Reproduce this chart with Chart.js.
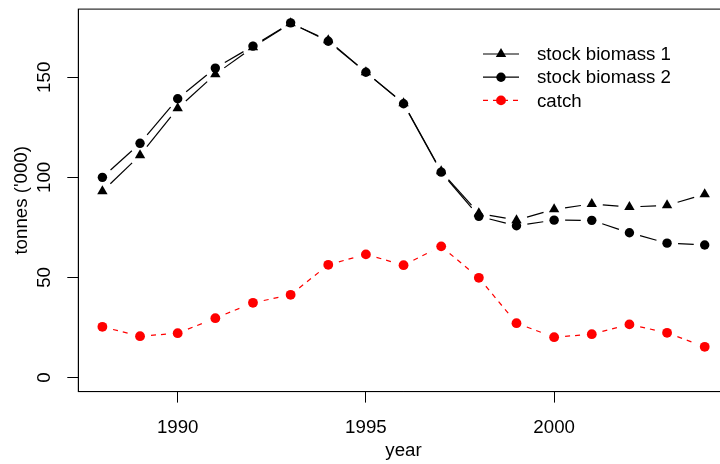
<!DOCTYPE html>
<html>
<head>
<meta charset="utf-8">
<script src="https://cdn.jsdelivr.net/npm/chart.js@4/dist/chart.umd.min.js"></script>
<style>
  html, body { margin: 0; padding: 0; background: #fff; overflow: hidden; }
  #wrap { width: 740px; height: 464px; }
</style>
</head>
<body>
<div id="wrap"><canvas id="c" width="740" height="464"></canvas></div>
<script>
const years = [1988, 1989, 1990, 1991, 1992, 1993, 1994, 1995, 1996, 1997, 1998, 1999, 2000, 2001, 2002, 2003, 2004];
const stockBiomass1 = [93, 111, 134.5, 151.5, 165, 177, 168.5, 152.5, 137, 103, 82, 78.6, 84, 86.7, 85.2, 86, 91.5];
const stockBiomass2 = [100, 117, 139.3, 154.6, 165.6, 177.2, 168, 152.5, 136.8, 102.6, 80.5, 75.8, 78.6, 78.5, 72.3, 67.1, 66.2];
const catchValues = [25.3, 20.6, 22.1, 29.6, 37.3, 41.3, 56.3, 61.5, 56.1, 65.5, 49.8, 27.1, 20.1, 21.6, 26.5, 22.3, 15.3];
const seriesLabels = ['stock biomass 1', 'stock biomass 2', 'catch'];
const xTickValues = [1990, 1995, 2000];
const yTickValues = [0, 50, 100, 150];

const FONT = { family: '"Liberation Sans", Arial, Helvetica, sans-serif', size: 18.7 };
const GAP = 11;

function gapDash(L, g, d, s) {
  const U = L - 2 * g;
  if (U <= 0) return [0, Math.max(L, 1)];
  const arr = [];
  let cum = 0;
  while (true) {
    const on = Math.min(d, U - cum);
    arr.push(on); cum += on;
    if (cum >= U - 1e-6) break;
    const off = Math.min(s, U - cum);
    arr.push(off); cum += off;
    if (cum >= U - 1e-6) { arr.push(0); break; }
  }
  arr.push(L - cum);
  return arr;
}
function segLen(c) { return Math.hypot(c.p1.x - c.p0.x, c.p1.y - c.p0.y); }
function gapSegment(d, s) {
  return {
    borderDash: c => gapDash(segLen(c), GAP, d, s),
    borderDashOffset: c => segLen(c) - GAP
  };
}
const toXY = arr => arr.map((v, i) => ({ x: years[i], y: v }));

const boxPlugin = {
  id: 'box',
  afterDraw(chart) {
    const { ctx, chartArea: a } = chart;
    ctx.save();
    ctx.strokeStyle = '#000';
    ctx.lineWidth = 1;
    ctx.strokeRect(a.left, a.top, a.right - a.left, a.bottom - a.top);
    ctx.restore();
  }
};

const legendPlugin = {
  id: 'rlegend',
  afterDraw(chart) {
    const ctx = chart.ctx;
    const x0 = 483, x1 = 519, xm = 501, xt = 537, y0 = 54, dy = 23.2;
    ctx.save();
    chart.data.datasets.forEach((ds, i) => {
      const y = y0 + i * dy;
      ctx.strokeStyle = ds.borderColor;
      ctx.lineWidth = ds.borderWidth;
      ctx.setLineDash(ds.legendDash || []);
      ctx.beginPath(); ctx.moveTo(x0, y); ctx.lineTo(x1, y); ctx.stroke();
      ctx.setLineDash([]);
      ctx.fillStyle = ds.pointBackgroundColor;
      const r = ds.pointRadius;
      ctx.beginPath();
      if (ds.pointStyle === 'triangle') {
        for (let k = 0; k < 3; k++) {
          const ang = k * 2 * Math.PI / 3;
          const px = xm + Math.sin(ang) * r, py = y - Math.cos(ang) * r;
          if (k === 0) ctx.moveTo(px, py); else ctx.lineTo(px, py);
        }
        ctx.closePath();
      } else {
        ctx.arc(xm, y, r, 0, Math.PI * 2);
      }
      ctx.fill();
      ctx.fillStyle = '#000';
      ctx.font = FONT.size + 'px ' + FONT.family;
      ctx.textAlign = 'left';
      ctx.textBaseline = 'middle';
      ctx.fillText(ds.label, xt, y + 1);
    });
    ctx.restore();
  }
};

new Chart(document.getElementById('c'), {
  type: 'line',
  data: {
    datasets: [
      {
        label: seriesLabels[0], data: toXY(stockBiomass1),
        borderColor: '#000', borderWidth: 1.2, pointStyle: 'triangle', pointRadius: 6,
        pointBackgroundColor: '#000', pointBorderWidth: 0, pointHoverRadius: 6,
        segment: gapSegment(1e6, 0), legendDash: []
      },
      {
        label: seriesLabels[1], data: toXY(stockBiomass2),
        borderColor: '#000', borderWidth: 1.2, pointStyle: 'circle', pointRadius: 4.7,
        pointBackgroundColor: '#000', pointBorderWidth: 0, pointHoverRadius: 4.7,
        segment: gapSegment(1e6, 0), legendDash: []
      },
      {
        label: seriesLabels[2], data: toXY(catchValues),
        borderColor: '#ff0000', borderWidth: 1.2, pointStyle: 'circle', pointRadius: 4.9,
        pointBackgroundColor: '#ff0000', pointBorderWidth: 0, pointHoverRadius: 4.9,
        segment: gapSegment(5, 5), legendDash: [5, 5]
      }
    ]
  },
  options: {
    responsive: false,
    animation: false,
    devicePixelRatio: 1,
    layout: { padding: { left: 0, right: 11.2, top: 9.1, bottom: 0 } },
    elements: { line: { tension: 0, borderCapStyle: 'butt', fill: false } },
    plugins: { legend: { display: false }, tooltip: { enabled: false } },
    scales: {
      x: {
        type: 'linear', min: 1987.36, max: 2004.64,
        afterBuildTicks: s => { s.ticks = xTickValues.map(v => ({ value: v })); },
        afterFit: s => { s.height = 72.4; s.paddingLeft = 0; s.paddingRight = 0; },
        grid: { drawOnChartArea: false, drawTicks: true, tickLength: 11, color: '#000', lineWidth: 1 },
        border: { display: true, color: '#000', width: 1 },
        ticks: { color: '#000', font: FONT, padding: 14, autoSkip: false, maxRotation: 0,
                 callback: v => String(v) },
        title: { display: true, text: 'year', color: '#000', font: FONT, padding: { top: 0, bottom: 2 } }
      },
      y: {
        type: 'linear', min: -7.08, max: 184.08,
        afterBuildTicks: s => { s.ticks = yTickValues.map(v => ({ value: v })); },
        afterFit: s => { s.width = 78.3; s.paddingTop = 0; s.paddingBottom = 0; },
        grid: { drawOnChartArea: false, drawTicks: true, tickLength: 11, color: '#000', lineWidth: 1 },
        border: { display: true, color: '#000', width: 1 },
        ticks: { color: '#000', font: FONT, padding: 7, autoSkip: false, minRotation: 90, maxRotation: 90,
                 crossAlign: 'center', callback: v => String(v) },
        title: { display: true, text: "tonnes ('000)", color: '#000', font: FONT, padding: { top: 11, bottom: 0 } }
      }
    }
  },
  plugins: [boxPlugin, legendPlugin]
});
</script>
</body>
</html>
